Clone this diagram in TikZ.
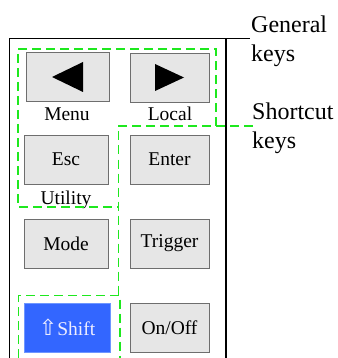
\documentclass[tikz,border=0pt]{standalone}
\usepackage{fontspec}
\setmainfont{Liberation Serif}
\newfontfamily\symfont{DejaVu Sans}
\definecolor{keyfill}{RGB}{230,230,230}
\definecolor{keyedge}{RGB}{110,110,110}
\definecolor{regiongreen}{RGB}{30,232,30}
\definecolor{shiftblue}{RGB}{51,102,255}
\definecolor{shiftedge}{RGB}{110,150,255}
\tikzset{
  keybox/.style={draw=keyedge, fill=keyfill, line width=0.9pt, inner sep=0pt,
    minimum width=#1, minimum height=49pt, font=\fontsize{19.5}{22}\selectfont},
  keybox/.default=80pt,
  shiftbox/.style={keybox=86pt, fill=shiftblue, draw=shiftedge, text=white!93!blue},
  keylabel/.style={inner sep=0pt, anchor=base, font=\fontsize{19.5}{22}\selectfont},
  region/.style={draw=regiongreen, line width=1.8pt, dash pattern=on 9pt off 5pt},
  frameline/.style={draw=black, line width=1.6pt},
  sidetext/.style={inner sep=0pt, anchor=north west, align=left,
    font=\fontsize{24}{29.5}\selectfont}
}
\begin{document}
\begin{tikzpicture}[x=1pt,y=-1pt]
\useasboundingbox (0,0) rectangle (337,358);
% frame
\draw[frameline] (9.5,359) -- (9.5,38.5) -- (250,38.5);
\draw[frameline] (226,38.5) -- (226,359);
% keys
\node[keybox=83pt] (kleft) at (67.5,77) {};
\node[keybox=79pt] (kright) at (169.5,77.5) {};
\fill (kleft.center) ++(-15.5,0) -- ++(31,-15) -- ++(0,30) -- cycle;
\fill (kright.center) ++(14.5,0) -- ++(-29,-13.5) -- ++(0,27) -- cycle;
\node[keylabel] (menu) at (67,121) {Menu};
\node[keylabel] (local) at (170,121) {Local};
\node[keybox=84pt] (esc) at (66,159.5) {Esc};
\node[keybox=79pt] (enter) at (169.5,159.5) {Enter};
\node[keylabel] (utility) at (66,204) {Utility};
\node[keybox=84pt] (mode) at (66,243.5) {Mode};
\node[keybox=79pt] (trigger) at (169.5,243.5) {Trigger};
\node[shiftbox] (shift) at (67,327.5) {{\symfont\fontsize{22}{22}\selectfont ⇧}Shift};
\node[keybox=79pt] (onoff) at (169.5,327.5) {On/Off};
% regions
\draw[region] (216,126) -- (216,49) -- (18,49) -- (18,207) -- (118.5,207);
\draw[region] (253,126) -- (118.5,126) -- (118.5,295);
\draw[region] (18.5,358) -- (18.5,295.5) -- (120,295.5) -- (120,358);
% side labels
\node[sidetext] (general) at (251,15.6) {General\\keys};
\node[sidetext] (shortcut) at (252,102.6) {Shortcut\\keys};
\end{tikzpicture}
\end{document}
